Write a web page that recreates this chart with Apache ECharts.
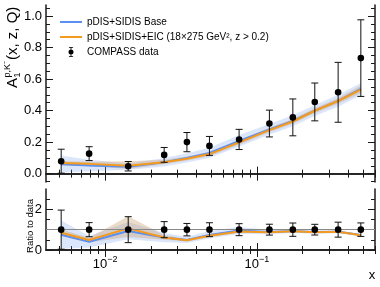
<!DOCTYPE html>
<html><head><meta charset="utf-8">
<script src="https://cdn.jsdelivr.net/npm/echarts@6/dist/echarts.min.js"></script>
<style>html,body{margin:0;padding:0;background:#fff}#c{width:380px;height:287px}</style>
</head><body><div id="c"></div>
<script>
// ---- data ----
const xVals   = [0.00513, 0.00784, 0.01419, 0.0245, 0.0346, 0.0487, 0.0764, 0.121, 0.1727, 0.241, 0.3435, 0.4849];
const dataY   = [0.079, 0.127, 0.047, 0.119, 0.200, 0.176, 0.217, 0.318, 0.357, 0.455, 0.516, 0.733];
const dataErr = [0.076, 0.044, 0.030, 0.047, 0.061, 0.060, 0.064, 0.085, 0.117, 0.120, 0.190, 0.243];
const baseY   = [0.059, 0.052, 0.044, 0.073, 0.099, 0.131, 0.208, 0.280, 0.335, 0.400, 0.462, 0.537];
const baseLo  = [0.005, 0.015, 0.025, 0.045, 0.070, 0.100, 0.172, 0.247, 0.300, 0.365, 0.425, 0.498];
const baseHi  = [0.115, 0.088, 0.065, 0.100, 0.130, 0.165, 0.245, 0.315, 0.370, 0.435, 0.500, 0.575];
const eicY    = [0.067, 0.062, 0.050, 0.073, 0.095, 0.124, 0.198, 0.276, 0.331, 0.399, 0.461, 0.533];
const eicLo   = [0.053, 0.048, 0.030, 0.060, 0.083, 0.111, 0.184, 0.262, 0.316, 0.383, 0.444, 0.510];
const eicHi   = [0.080, 0.076, 0.078, 0.088, 0.108, 0.138, 0.212, 0.291, 0.347, 0.416, 0.480, 0.560];
const topYTicks   = [0, 0.2, 0.4, 0.6, 0.8, 1.0];
const ratioYTicks = [0, 2];
const xMajorExp   = [-2, -1];
const names = ['pDIS+SIDIS Base', 'pDIS+SIDIS+EIC (18×275 GeV², z > 0.2)', 'COMPASS data'];

// ---- helpers ----
const L = v => Math.log10(v);
const xMinorTicks = [];
[-3, -2, -1].forEach(d => { for (let k = 2; k <= 9; k++) xMinorTicks.push(L(k * Math.pow(10, d))); });
const topYMinor = []; for (let v = -0.05; v <= 1.06; v += 0.05) topYMinor.push(+v.toFixed(2));
const ratioYMinor = [0.5, 1, 1.5, 2.5];
const XMIN = -2.39, XMAX = -0.221;

const C = '#1a1a1a';
const FONT = 'Liberation Sans';
function xAx(g, pos, ticks, len, labels, line) {
  return { type: 'value', gridIndex: g, position: pos, min: XMIN, max: XMAX,
    axisLine: { show: line, lineStyle: { color: C, width: 1.5 } },
    axisTick: { show: true, inside: true, length: len, customValues: ticks, lineStyle: { color: C, width: 1 } },
    axisLabel: labels ? { show: true, customValues: ticks, margin: 5, color: '#000', fontFamily: FONT, fontSize: 13,
        formatter: v => '{b|10}{s|' + String(Math.round(v)).replace('-', '−') + '}',
        rich: { b: { fontSize: 13, fontFamily: FONT, color: '#000', verticalAlign: 'bottom', lineHeight: 16 },
                s: { fontSize: 9, fontFamily: FONT, color: '#000', verticalAlign: 'top', lineHeight: 16 } } }
      : { show: false },
    splitLine: { show: false } };
}
function yAx(g, pos, min, max, ticks, len, labels, fmt, line) {
  return { type: 'value', gridIndex: g, position: pos, min: min, max: max,
    axisLine: { show: line, onZero: false, lineStyle: { color: C, width: 1.5 } },
    axisTick: { show: true, inside: true, length: len, customValues: ticks, lineStyle: { color: C, width: 1 } },
    axisLabel: labels ? { show: true, customValues: ticks, margin: 4, color: '#000', fontFamily: FONT, fontSize: 13, formatter: fmt } : { show: false },
    splitLine: { show: false } };
}

const xAxis = [
  xAx(0, 'bottom', xMajorExp, 7, false, true), xAx(0, 'bottom', xMinorTicks, 4, false, false),
  xAx(0, 'top', xMajorExp, 7, false, true),    xAx(0, 'top', xMinorTicks, 4, false, false),
  xAx(1, 'bottom', xMajorExp, 7, true, true),  xAx(1, 'bottom', xMinorTicks, 4, false, false),
  xAx(1, 'top', xMajorExp, 7, false, true),    xAx(1, 'top', xMinorTicks, 4, false, false)
];
const TYMIN = -0.053, TYMAX = 1.07;
const yAxis = [
  yAx(0, 'left', TYMIN, TYMAX, topYTicks, 7, true, v => v.toFixed(1), true),
  yAx(0, 'left', TYMIN, TYMAX, topYMinor, 4, false, null, false),
  yAx(0, 'right', TYMIN, TYMAX, topYTicks, 7, false, null, true),
  yAx(0, 'right', TYMIN, TYMAX, topYMinor, 4, false, null, false),
  yAx(1, 'left', 0, 3, ratioYTicks, 7, true, v => String(v), true),
  yAx(1, 'left', 0, 3, ratioYMinor, 4, false, null, false),
  yAx(1, 'right', 0, 3, ratioYTicks, 7, false, null, true),
  yAx(1, 'right', 0, 3, ratioYMinor, 4, false, null, false)
];

const BLUE = '#5b8ff0', ORANGE = '#f49b1f';
const BLUEBAND = 'rgba(120,160,240,0.26)', TANBAND = 'rgba(200,160,115,0.38)';

// band drawn as one polygon through the axes' coordinate system
function band(xi, yi, lo, hi, color) {
  return { type: 'custom', xAxisIndex: xi, yAxisIndex: yi, clip: true, silent: true, z: 1,
    data: xVals.map((x, i) => [L(x), lo[i], hi[i]]),
    renderItem: (params, api) => {
      if (params.dataIndexInside !== 0) return null;
      const n = params.dataInsideLength, up = [], dn = [];
      for (let i = 0; i < n; i++) {
        up.push(api.coord([api.value(0, i), api.value(2, i)]));
        dn.push(api.coord([api.value(0, i), api.value(1, i)]));
      }
      return { type: 'polygon', shape: { points: up.concat(dn.reverse()) }, style: { fill: color } };
    } };
}
function errSeries(xi, yi, vals, errs, name) {
  return { type: 'custom', name: name, xAxisIndex: xi, yAxisIndex: yi, clip: true, z: 5,
    itemStyle: { color: '#000' },
    data: xVals.map((x, i) => [L(x), vals[i], vals[i] - errs[i], vals[i] + errs[i]]),
    renderItem: (params, api) => {
      const p = api.coord([api.value(0), api.value(1)]);
      const a = api.coord([api.value(0), api.value(2)]);
      const b = api.coord([api.value(0), api.value(3)]);
      const st = { stroke: '#111', lineWidth: 1 };
      return { type: 'group', children: [
        { type: 'line', shape: { x1: p[0], y1: a[1], x2: p[0], y2: b[1] }, style: st },
        { type: 'line', shape: { x1: p[0] - 3.5, y1: a[1], x2: p[0] + 3.5, y2: a[1] }, style: st },
        { type: 'line', shape: { x1: p[0] - 3.5, y1: b[1], x2: p[0] + 3.5, y2: b[1] }, style: st },
        { type: 'circle', shape: { cx: p[0], cy: p[1], r: 3.3 }, style: { fill: '#000' } }
      ] };
    } };
}
function lineS(xi, yi, vals, color, name) {
  return { type: 'line', name: name, xAxisIndex: xi, yAxisIndex: yi, symbol: 'none', z: 3,
    lineStyle: { color: color, width: 2 }, itemStyle: { color: color },
    data: xVals.map((x, i) => [L(x), vals[i]]) };
}
const rat = arr => arr.map((v, i) => v / dataY[i]);
const ones = dataY.map(() => 1);

const series = [
  band(0, 0, baseLo, baseHi, BLUEBAND),
  band(0, 0, eicLo, eicHi, TANBAND),
  lineS(0, 0, baseY, BLUE, names[0]), lineS(0, 0, eicY, ORANGE, names[1]), errSeries(0, 0, dataY, dataErr, names[2]),
  band(4, 4, rat(baseLo), rat(baseHi), BLUEBAND),
  band(4, 4, rat(eicLo), rat(eicHi), TANBAND),
  { type: 'line', xAxisIndex: 4, yAxisIndex: 4, data: [], symbol: 'none', silent: true,
    markLine: { silent: true, symbol: 'none', label: { show: false }, lineStyle: { color: '#888', width: 1.2, type: 'solid' }, data: [{ yAxis: 1 }] }, z: 2 },
  lineS(4, 4, rat(baseY), BLUE, 'rb'), lineS(4, 4, rat(eicY), ORANGE, 're'),
  errSeries(4, 4, ones, rat(dataErr), 'rd')
];

const chart = echarts.init(document.getElementById('c'), null, { renderer: 'canvas' });
chart.setOption({
  animation: false,
  backgroundColor: '#fff',
  grid: [ { left: 46, right: 5, top: 5, height: 177 }, { left: 46, right: 5, top: 189, height: 61 } ],
  xAxis: xAxis, yAxis: yAxis, series: series,
  legend: { orient: 'vertical', left: 55, top: 12, itemWidth: 22, itemHeight: 10, itemGap: 5,
    textStyle: { fontFamily: FONT, fontSize: 10, color: '#000' }, selectedMode: false,
    data: [
      { name: names[0], icon: 'path://M0,0h22v2H0z' },
      { name: names[1], icon: 'path://M0,0h22v2H0z' },
      { name: names[2], icon: 'path://M2,0h5v1h-5zM4,0h1v12h-1zM2,11h5v1h-5zM7.5,6a3,3 0 1,1 -6,0a3,3 0 1,1 6,0z' }
    ] },
  graphic: [
    { type: 'group', x: 13, y: 88, rotation: Math.PI / 2, children: [
      { type: 'text', x: 0, y: 0, style: { text: 'A', fontSize: 15, fontFamily: FONT, fill: '#000', verticalAlign: 'middle' } },
      { type: 'text', x: 10.5, y: 4.5, style: { text: '1', fontSize: 9, fontFamily: FONT, fill: '#000', verticalAlign: 'middle' } },
      { type: 'text', x: 10.5, y: -5.5, style: { text: 'p,K⁻', fontSize: 9, fontFamily: FONT, fill: '#000', verticalAlign: 'middle' } },
      { type: 'text', x: 28, y: 0, style: { text: '(x, z, Q)', fontSize: 15, fontFamily: FONT, fill: '#000', verticalAlign: 'middle' } }
    ] },
    { type: 'text', x: 30, y: 226, rotation: Math.PI / 2,
      style: { text: 'Ratio to data', align: 'center', verticalAlign: 'middle', fontSize: 9.5, fontFamily: FONT, fill: '#000' } },
    { type: 'text', x: 372, y: 275,
      style: { text: 'x', align: 'center', verticalAlign: 'middle', fontSize: 13, fontFamily: FONT, fill: '#000' } }
  ]
});
</script></body></html>
